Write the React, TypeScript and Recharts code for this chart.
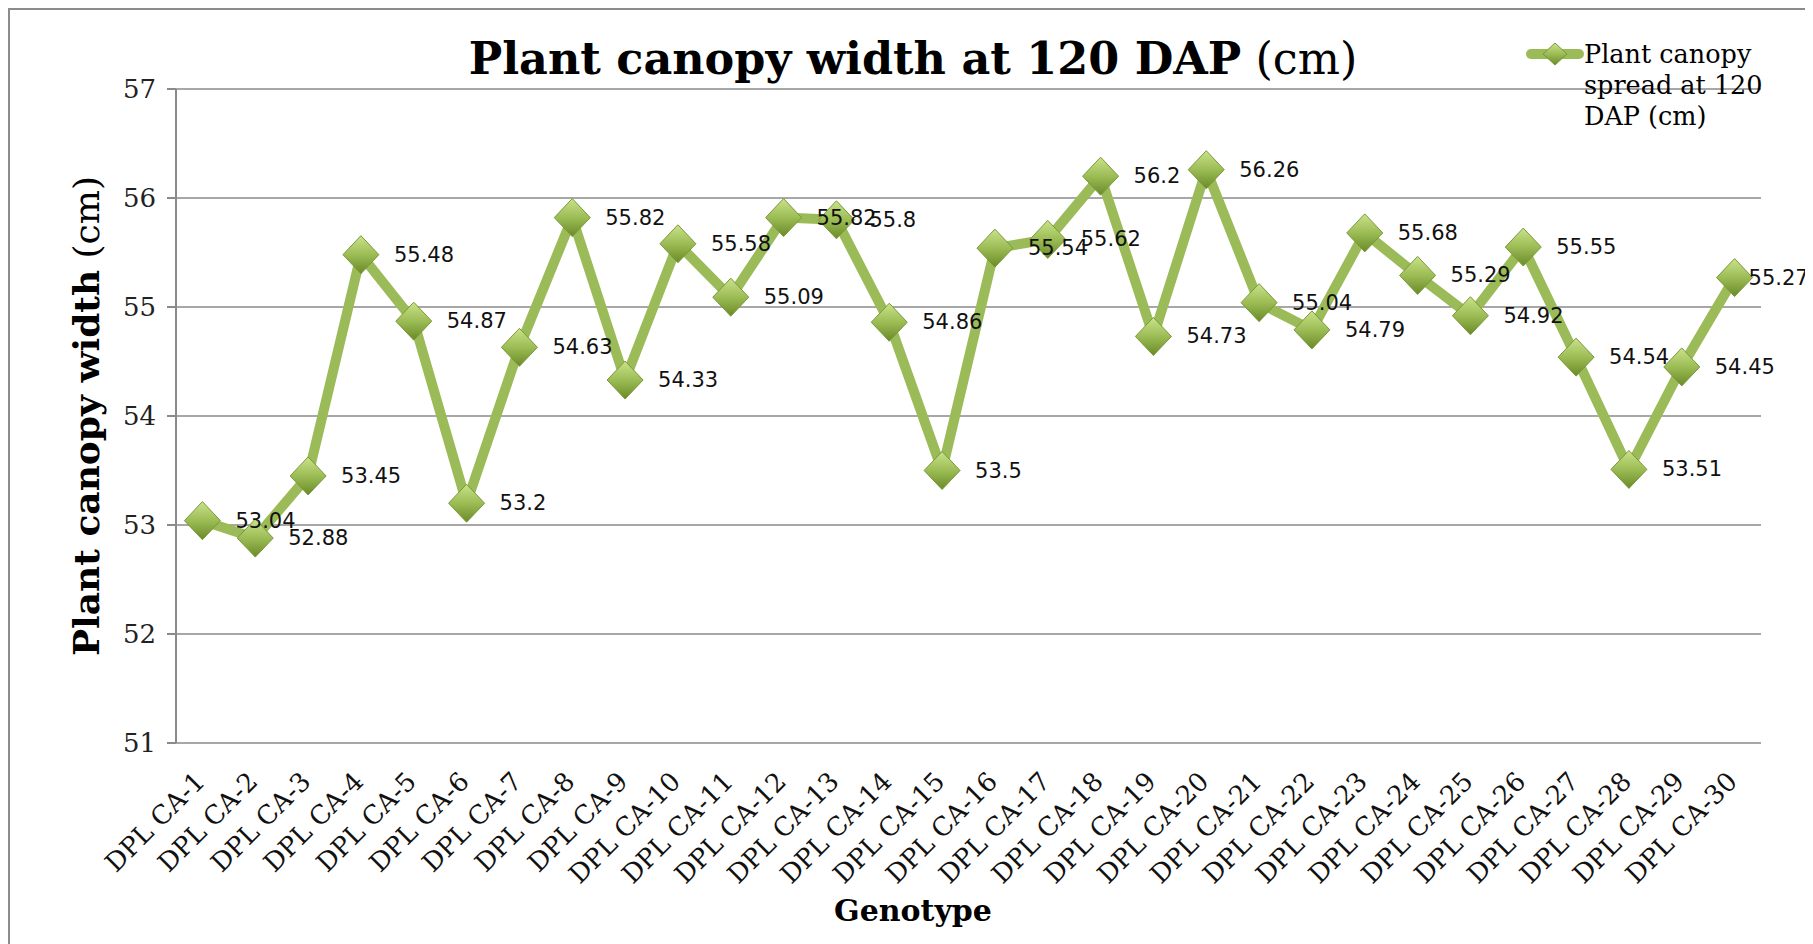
import React from "react";
import { CartesianGrid, ComposedChart, LabelList, Line, XAxis, YAxis } from "recharts";

const genotypes = [
    "DPL CA-1", "DPL CA-2", "DPL CA-3", "DPL CA-4", "DPL CA-5", "DPL CA-6",
    "DPL CA-7", "DPL CA-8", "DPL CA-9", "DPL CA-10", "DPL CA-11", "DPL CA-12",
    "DPL CA-13", "DPL CA-14", "DPL CA-15", "DPL CA-16", "DPL CA-17", "DPL CA-18",
    "DPL CA-19", "DPL CA-20", "DPL CA-21", "DPL CA-22", "DPL CA-23", "DPL CA-24",
    "DPL CA-25", "DPL CA-26", "DPL CA-27", "DPL CA-28", "DPL CA-29", "DPL CA-30",
];

const canopySpread = [
    53.04, 52.88, 53.45, 55.48, 54.87, 53.2, 54.63, 55.82, 54.33, 55.58,
    55.09, 55.82, 55.8, 54.86, 53.5, 55.54, 55.62, 56.2, 54.73, 56.26,
    55.04, 54.79, 55.68, 55.29, 54.92, 55.55, 54.54, 53.51, 54.45, 55.27,
];

const yTicks = [51, 52, 53, 54, 55, 56, 57];
const edgeTicks = Array.from({ length: genotypes.length + 1 }, (_, i) => i);

const data = genotypes.map((name, i) => ({ name, value: canopySpread[i] }));

const GREEN = "#9bbb59";
const GRID = "#8a8a8a";
const SERIF = "'DejaVu Serif', serif";

function Diamond({ cx, cy, w, h }: { cx: number; cy: number; w: number; h: number }) {
    if (cx == null || cy == null) return null;
    return (
        <polygon
            points={`${cx},${cy - h} ${cx + w},${cy} ${cx},${cy + h} ${cx - w},${cy}`}
            fill="url(#diamondFill)"
            stroke="#7a9838"
            strokeWidth={1}
        />
    );
}

function XTick({ x, y, payload }: any) {
    return (
        <text
            transform={`translate(${x + 4},${y + 40}) rotate(-45)`}
            textAnchor="end"
            fontFamily={SERIF}
            fontSize={26}
            fill="#111"
        >
            {payload.value}
        </text>
    );
}

function ValueLabel({ x, y, value, index }: any) {
    // the last label sits closer to its point so it stays inside the frame
    const dx = index === canopySpread.length - 1 ? 14 : 33;
    return (
        <text x={x + dx} y={y} dominantBaseline="central" fontFamily="'DejaVu Sans', sans-serif" fontSize={21} fill="#111">
            {value}
        </text>
    );
}

export default function App() {
    return (
        <div
            style={{
                position: "relative",
                width: 1805,
                height: 936,
                overflow: "hidden",
                boxSizing: "border-box",
                borderLeft: "2px solid #8c8c8c",
                borderTop: "2px solid #8c8c8c",
                background: "#fff",
            }}
        >
            <ComposedChart
                width={1803}
                height={934}
                data={data}
                margin={{ top: 79, right: 52, bottom: 51, left: 86 }}
            >
                <defs>
                    <linearGradient id="diamondFill" x1="0" y1="0" x2="0" y2="1">
                        <stop offset="0%" stopColor="#c9e38a" />
                        <stop offset="50%" stopColor="#9cbc55" />
                        <stop offset="100%" stopColor="#6a8a28" />
                    </linearGradient>
                </defs>
                <CartesianGrid horizontal vertical={false} stroke={GRID} strokeWidth={1.5} />
                <XAxis
                    xAxisId="edges"
                    type="number"
                    domain={[0, genotypes.length]}
                    ticks={edgeTicks}
                    allowDataOverflow
                    height={0}
                    tick={false}
                    tickSize={9}
                    tickLine={{ stroke: GRID, strokeWidth: 2 }}
                    axisLine={{ stroke: GRID, strokeWidth: 2 }}
                />
                <XAxis
                    dataKey="name"
                    scale="band"
                    interval={0}
                    height={150}
                    tickLine={false}
                    axisLine={false}
                    tickSize={0}
                    tickMargin={0}
                    tick={<XTick />}
                />
                <YAxis
                    domain={[51, 57]}
                    ticks={yTicks}
                    width={80}
                    tickSize={9}
                    tickMargin={11}
                    tickLine={{ stroke: GRID, strokeWidth: 2 }}
                    axisLine={{ stroke: GRID, strokeWidth: 2 }}
                    tick={{ fontFamily: SERIF, fontSize: 26, fill: "#222" }}
                />
                <Line
                    dataKey="value"
                    stroke={GREEN}
                    strokeWidth={10}
                    strokeLinejoin="round"
                    isAnimationActive={false}
                    dot={(p: any) => <Diamond key={p.index} cx={p.cx} cy={p.cy} w={18} h={19} />}
                    activeDot={false}
                >
                    <LabelList dataKey="value" content={<ValueLabel />} />
                </Line>
            </ComposedChart>

            <div
                style={{
                    position: "absolute",
                    left: 903,
                    top: 48,
                    transform: "translate(-50%, -50%)",
                    whiteSpace: "nowrap",
                    fontFamily: SERIF,
                    fontSize: 44.5,
                    color: "#000",
                }}
            >
                <b>Plant canopy width at 120 DAP</b> (cm)
            </div>

            <div
                style={{
                    position: "absolute",
                    left: 76,
                    top: 406,
                    transform: "translate(-50%, -50%) rotate(-90deg)",
                    whiteSpace: "nowrap",
                    fontFamily: SERIF,
                    fontSize: 36,
                    color: "#000",
                }}
            >
                <b>Plant canopy width</b> (cm)
            </div>

            <div
                style={{
                    position: "absolute",
                    left: 903,
                    top: 900,
                    transform: "translate(-50%, -50%)",
                    whiteSpace: "nowrap",
                    fontFamily: SERIF,
                    fontSize: 30,
                    fontWeight: "bold",
                    color: "#000",
                }}
            >
                Genotype
            </div>

            <div style={{ position: "absolute", left: 1512, top: 26, display: "flex", alignItems: "flex-start" }}>
                <svg width={62} height={36} style={{ flex: "none" }}>
                    <defs>
                        <linearGradient id="legendFill" x1="0" y1="0" x2="0" y2="1">
                            <stop offset="0%" stopColor="#c9e38a" />
                            <stop offset="50%" stopColor="#9cbc55" />
                            <stop offset="100%" stopColor="#6a8a28" />
                        </linearGradient>
                    </defs>
                    <line x1={9} y1={18} x2={57} y2={18} stroke={GREEN} strokeWidth={10} strokeLinecap="round" />
                    <polygon points="33,7 45,18 33,29 21,18" fill="url(#legendFill)" stroke="#7a9838" strokeWidth={1} />
                </svg>
                <div style={{ fontFamily: SERIF, fontSize: 25.5, lineHeight: "31px", color: "#000", marginTop: 3 }}>
                    Plant canopy
                    <br />
                    spread at 120
                    <br />
                    DAP (cm)
                </div>
            </div>
        </div>
    );
}
